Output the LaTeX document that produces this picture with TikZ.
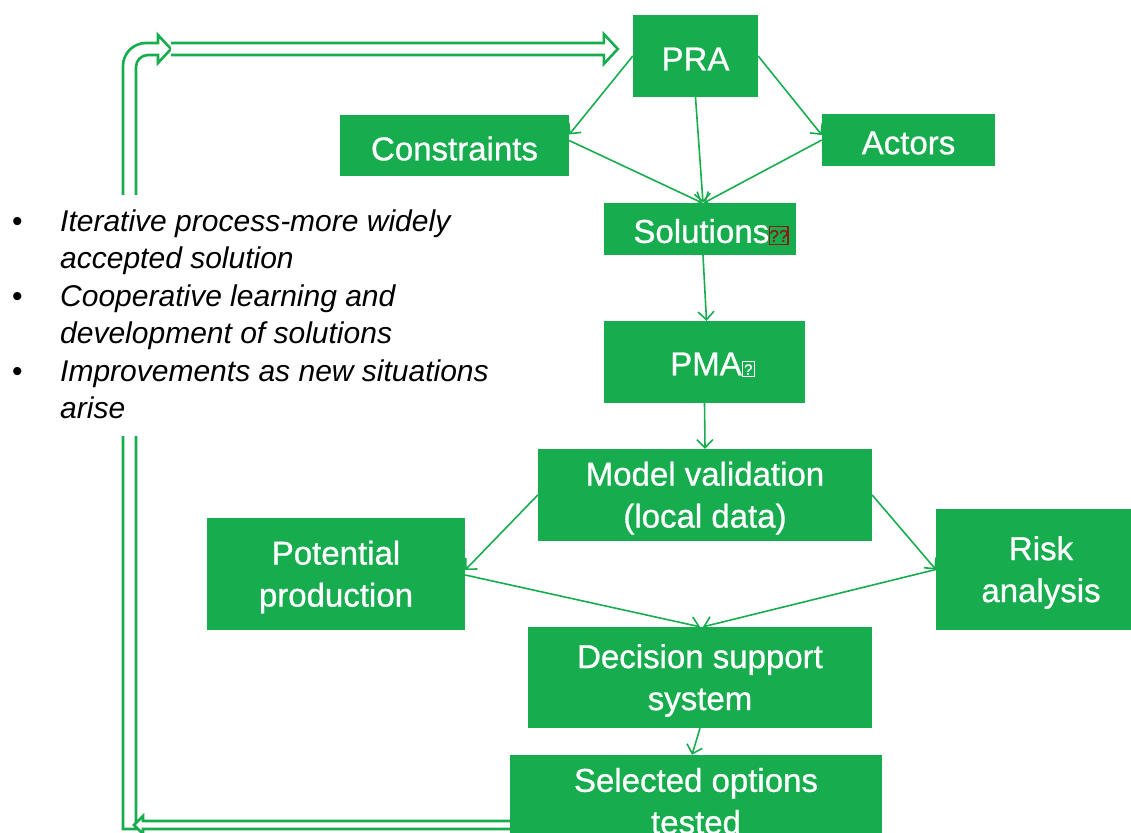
\documentclass[tikz,border=0pt]{standalone}
\usepackage{fontspec}
\setmainfont{Liberation Sans}
\newfontfamily\boxfont[FakeBold=0.8]{Liberation Sans}
\usetikzlibrary{arrows.meta,calc}
\definecolor{grn}{HTML}{17AD4E}
\definecolor{glyphred}{HTML}{8A1C12}
\newcommand\missglyphA{\textcolor{glyphred}{\setlength\fboxsep{1pt}\setlength\fboxrule{1.2pt}\fbox{\rule{0pt}{15pt}\makebox[15pt]{\raisebox{1pt}{\fontsize{17}{17}\selectfont ??}}}}}
\newcommand\missglyphB{{\setlength\fboxsep{1pt}\setlength\fboxrule{1.2pt}\fbox{\rule{0pt}{12pt}\makebox[8.6pt]{\raisebox{0.5pt}{\fontsize{15}{15}\selectfont ?}}}}}
\newcommand\gbox[6]{%
  \node[box, minimum width=#4, minimum height=#5] (#1) at (#2,#3) {};
  \node[boxtext] (#1-t) at ([yshift=-3pt]#1.center) {#6};}
\begin{document}
\begin{tikzpicture}[x=1pt,y=-1pt,
  box/.style={fill=grn, inner sep=0pt},
  boxtext/.style={text=white, inner sep=0pt, align=center, font=\boxfont\fontsize{33}{42}\selectfont},
  link/.style={draw=grn, line width=1.6pt, -{Straight Barb[length=8pt,width=16pt,line width=1.6pt]}},
  hollow/.style={draw=grn, line width=2.6pt, fill=white, line join=miter}]
\useasboundingbox (0,0) rectangle (1131,832);

% boxes
\gbox{pra}{695.5}{56}{125pt}{82pt}{PRA}
\gbox{cons}{454.5}{145.5}{229pt}{61pt}{Constraints}
\gbox{act}{908.5}{140}{173pt}{52pt}{Actors}
\gbox{sol}{700}{229}{192pt}{52pt}{\hspace*{22pt}Solutions\missglyphA}
\gbox{pma}{704.5}{362}{201pt}{82pt}{\hspace*{16pt}PMA\missglyphB}
\gbox{model}{705}{495}{334pt}{92pt}{Model validation\\(local data)}
\gbox{pot}{336}{574}{258pt}{112pt}{Potential\\production}
\gbox{risk}{1041}{569.5}{210pt}{121pt}{Risk\\analysis}
\gbox{dss}{700}{677.5}{344pt}{101pt}{Decision support\\system}
\gbox{sel}{696}{798}{372pt}{86pt}{Selected options\\tested}

% connectors
\draw[link] (pra.west) -- ([yshift=11pt]cons.east);
\draw[link] (pra.east) -- ([yshift=5pt]act.west);
\draw[link] (pra.south) -- ([xshift=3pt]sol.north);
\draw[link] ([yshift=5pt]cons.east) -- ([xshift=2pt]sol.north);
\draw[link] (act.west) -- ([xshift=4pt]sol.north);
\draw[link] ([xshift=3pt]sol.south) -- ([xshift=2pt]pma.north);
\draw[link] (pma.south) -- (model.north);
\draw[link] (model.west) -- ([yshift=4pt]pot.east);
\draw[link] (model.east) -- (risk.west);
\draw[link] ([yshift=-1pt]pot.east) -- (dss.north);
\draw[link] (risk.west) -- ([xshift=3pt]dss.north);
\draw[link] (dss.south) -- ([xshift=-4pt]sel.north);

% feedback loop (hollow block arrows)
\coordinate (loopstart) at ($(sel.west)+(0,27)$);
\coordinate (looptip) at ($(pra.west)+(-15,-7)$);
\draw[hollow] (123,829) -- (123,66) arc[start angle=180, end angle=270, radius=23]
  -- (158,43) -- (158,35) -- (171,49) -- (158,63) -- (158,55) -- (148,55)
  arc[start angle=270, end angle=180, radius=12] -- (136,829) -- cycle;
\draw[hollow] (171,43) -- ($(looptip)+(-14,-6)$) -- ($(looptip)+(-14,-15)$) -- (looptip)
  -- ($(looptip)+(-14,15)$) -- ($(looptip)+(-14,6)$) -- (171,55);
\draw[hollow] ($(loopstart)+(0,-4)$) -- (143,821) -- (143,816) -- (134,825) -- (143,834)
  -- (143,829) -- ($(loopstart)+(0,4)$);

% notes
\fill[white] (110,195) rectangle (150,436);
\node[anchor=base west, inner sep=0pt, font=\fontsize{30}{37.5}\selectfont] (notes) at (12,231)
 {\begin{tabular}[t]{@{}p{48pt}@{}l@{}}
  \textbullet & \textit{Iterative process-more widely}\\
  & \textit{accepted solution}\\
  \textbullet & \textit{Cooperative learning and}\\
  & \textit{development of solutions}\\
  \textbullet & \textit{Improvements as new situations}\\
  & \textit{arise}
  \end{tabular}};
\end{tikzpicture}
\end{document}
